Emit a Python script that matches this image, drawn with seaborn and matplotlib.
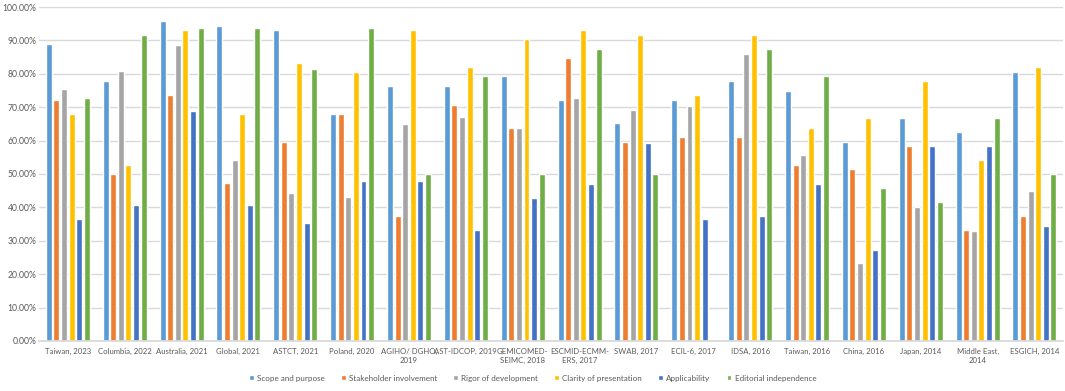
import matplotlib.pyplot as plt
import matplotlib.ticker as mtick
import seaborn as sns
import pandas as pd

guidelines = ["Taiwan, 2023", "Columbia, 2022", "Australia, 2021", "Global, 2021",
              "ASTCT, 2021", "Poland, 2020", "AGIHO/ DGHO,\n2019", "AST-IDCOP, 2019",
              "GEMICOMED-\nSEIMC, 2018", "ESCMID-ECMM-\nERS, 2017", "SWAB, 2017",
              "ECIL-6, 2017", "IDSA, 2016", "Taiwan, 2016", "China, 2016",
              "Japan, 2014", "Middle East,\n2014", "ESGICH, 2014"]
domains = ["Scope and purpose", "Stakeholder involvement", "Rigor of development",
           "Clarity of presentation", "Applicability", "Editorial independence"]

scope = [88.9, 77.8, 95.8, 94.4, 93.1, 68.1, 76.4, 76.4, 79.2, 72.2, 65.3, 72.2, 77.8, 75.0, 59.7, 66.7, 62.5, 80.6]
stakeholder = [72.2, 50.0, 73.6, 47.2, 59.7, 68.1, 37.5, 70.8, 63.9, 84.7, 59.7, 61.1, 61.1, 52.8, 51.4, 58.3, 33.3, 37.5]
rigor = [75.5, 80.7, 88.5, 54.2, 44.3, 43.2, 65.1, 67.2, 63.9, 72.9, 69.3, 70.3, 85.9, 55.7, 23.4, 40.1, 32.8, 44.8]
clarity = [68.1, 52.8, 93.1, 68.1, 83.3, 80.6, 93.1, 81.9, 90.3, 93.1, 91.7, 73.6, 91.7, 63.9, 66.7, 77.8, 54.2, 81.9]
applicability = [36.5, 40.6, 68.8, 40.6, 35.4, 47.9, 47.9, 33.3, 42.7, 46.9, 59.4, 36.5, 37.5, 46.9, 27.1, 58.3, 58.3, 34.4]
editorial = [72.9, 91.7, 93.8, 93.8, 81.3, 93.8, 50.0, 79.2, 50.0, 87.5, 50.0, 0.0, 87.5, 79.2, 45.8, 41.7, 66.7, 50.0]

colors = ["#5B9BD5", "#ED7D31", "#A5A5A5", "#FFC000", "#4472C4", "#70AD47"]

rows = []
for dom, vals in zip(domains, [scope, stakeholder, rigor, clarity, applicability, editorial]):
    for g, v in zip(guidelines, vals):
        rows.append({"guideline": g, "domain": dom, "score": v / 100})
df = pd.DataFrame(rows)

sns.set_theme(style="white")
plt.rcParams["font.family"] = ["Lato", "DejaVu Sans"]

fig = plt.figure(figsize=(10.65, 3.91), dpi=100)
ax = fig.add_axes([0.037, 0.128, 0.961, 0.854])

sns.barplot(data=df, x="guideline", y="score", hue="domain", hue_order=domains,
            palette=colors, saturation=1, width=0.8, gap=0.21, ax=ax, legend=True)

ax.set_ylim(0, 1.0)
ax.set_xlim(-0.5, len(guidelines) - 0.5)
ax.set_yticks([i / 10 for i in range(11)])
ax.yaxis.set_major_formatter(mtick.PercentFormatter(1.0, decimals=2))
ax.yaxis.grid(True, color="#D9D9D9", linewidth=1)
ax.set_axisbelow(True)
ax.set_xlabel("")
ax.set_ylabel("")
for s in ["top", "right", "left"]:
    ax.spines[s].set_visible(False)
ax.spines["bottom"].set_color("#D9D9D9")
ax.tick_params(axis="y", length=0, labelsize=6.2, labelcolor="#595959", pad=2)
ax.tick_params(axis="x", length=0, labelsize=5.6, labelcolor="#595959", pad=5)
for lbl in ax.get_xticklabels():
    lbl.set_linespacing(1.4)

handles, labels = ax.get_legend_handles_labels()
ax.get_legend().remove()
fig.legend(handles, labels, loc="center", bbox_to_anchor=(0.5, 0.033), ncol=6,
           frameon=False, fontsize=5.8, labelcolor="#595959", handlelength=0.6,
           handleheight=0.6, handletextpad=0.4, columnspacing=2.0)

fig.savefig("out.png", dpi=100)
